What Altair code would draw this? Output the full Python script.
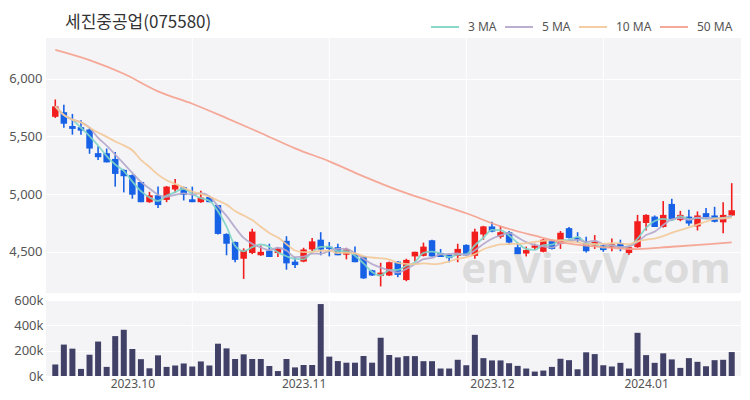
import json
import altair as alt
import pandas as pd
import numpy as np

title_text = "세진중공업(075580)"

opens = [5670, 5710, 5590, 5580, 5560, 5355, 5355, 5305, 5210, 5165,
         5105, 4930, 4990, 4950, 5040, 5060, 4955, 4930, 4975, 4905,
         4655, 4585, 4440, 4490, 4470, 4510, 4490, 4595, 4415, 4415,
         4520, 4605, 4545, 4540, 4475, 4480, 4460, 4340, 4290, 4295,
         4415, 4255, 4460, 4465, 4600, 4490, 4475, 4465, 4560, 4465,
         4650, 4720, 4630, 4670, 4540, 4485, 4535, 4500, 4600, 4570,
         4705, 4625, 4575, 4555, 4555, 4535, 4575, 4490, 4540, 4750,
         4805, 4715, 4915, 4775, 4805, 4720, 4835, 4815, 4755, 4815]
highs = [5820, 5775, 5695, 5640, 5580, 5415, 5395, 5365, 5215, 5170,
         5110, 5020, 5065, 5070, 5130, 5065, 5065, 5030, 4980, 4905,
         4660, 4590, 4530, 4700, 4555, 4570, 4540, 4635, 4455, 4535,
         4620, 4670, 4585, 4570, 4535, 4545, 4465, 4345, 4405, 4415,
         4420, 4440, 4500, 4580, 4605, 4525, 4480, 4570, 4565, 4700,
         4725, 4760, 4725, 4680, 4580, 4545, 4570, 4610, 4605, 4680,
         4715, 4670, 4630, 4645, 4560, 4615, 4605, 4545, 4820, 4825,
         4815, 4940, 4960, 4855, 4865, 4850, 4880, 4890, 4930, 5095]
lows = [5660, 5575, 5515, 5515, 5350, 5295, 5275, 5065, 5015, 4960,
        4930, 4925, 4880, 4930, 5010, 4945, 4930, 4925, 4930, 4650,
        4470, 4410, 4265, 4480, 4465, 4455, 4455, 4345, 4360, 4410,
        4505, 4470, 4460, 4470, 4435, 4410, 4265, 4290, 4200, 4290,
        4280, 4245, 4415, 4460, 4460, 4455, 4410, 4410, 4465, 4440,
        4605, 4670, 4615, 4560, 4480, 4460, 4515, 4495, 4520, 4525,
        4615, 4580, 4495, 4525, 4500, 4505, 4505, 4475, 4535, 4685,
        4715, 4710, 4770, 4765, 4725, 4685, 4795, 4755, 4660, 4810]
closes = [5760, 5610, 5565, 5550, 5395, 5320, 5275, 5175, 5155, 4995,
          4930, 4990, 4905, 5065, 5080, 4995, 4930, 4970, 4930, 4655,
          4570, 4430, 4515, 4675, 4500, 4455, 4530, 4400, 4385, 4520,
          4590, 4520, 4525, 4470, 4520, 4410, 4270, 4295, 4320, 4410,
          4300, 4430, 4500, 4545, 4460, 4455, 4445, 4525, 4470, 4675,
          4720, 4675, 4670, 4580, 4480, 4515, 4555, 4605, 4525, 4665,
          4620, 4605, 4505, 4585, 4515, 4565, 4535, 4540, 4765, 4820,
          4715, 4820, 4785, 4820, 4745, 4815, 4800, 4760, 4820, 4860]
volumes = [91, 248, 216, 56, 168, 272, 72, 315, 365, 213,
           133, 61, 163, 72, 83, 99, 75, 115, 83, 255,
           218, 134, 171, 134, 134, 79, 39, 134, 68, 87,
           87, 568, 153, 118, 105, 105, 158, 105, 302, 166,
           147, 157, 157, 117, 117, 59, 59, 128, 85, 325,
           141, 123, 123, 101, 80, 59, 35, 43, 72, 136,
           125, 53, 187, 173, 85, 75, 104, 59, 341, 165,
           104, 179, 131, 64, 141, 112, 77, 125, 128, 189]

ma50_idx = [0, 4, 8, 12, 16, 20, 24, 28, 32, 36, 40, 44, 48, 52, 56, 60, 64, 68, 72, 76, 79]
ma50_vals = [6251, 6162, 6043, 5891, 5783, 5659, 5530, 5397, 5284, 5154, 5035,
             4934, 4834, 4721, 4640, 4570, 4541, 4524, 4544, 4565, 4582]

month_tick_idx = [9, 29, 51, 69]
month_labels = ["2023.10", "2023.11", "2023.12", "2024.01"]
grid_idx = [16, 32, 48, 64]

ma_names = ["3 MA", "5 MA", "10 MA", "50 MA"]
ma_colors = ["#7fd4c6", "#b4a7cc", "#f3c998", "#f5a08d"]
price_ticks = [4500, 5000, 5500, 6000]
vol_ticks = [0, 200000, 400000, 600000]
watermark = "enVievV.com"

n = len(closes)
df = pd.DataFrame({
    "i": list(range(n)),
    "open": opens, "high": highs, "low": lows, "close": closes,
    "volume": [v * 1000 for v in volumes],
})
df["dir"] = np.where(df["close"] >= df["open"], "up", "down")

close_s = pd.Series(closes)
ma_frames = []
for w, name in zip([3, 5, 10], ma_names[:3]):
    ma_frames.append(pd.DataFrame({"i": list(range(n)),
                                   "value": close_s.rolling(w, min_periods=1).mean(),
                                   "series": name}))
ma_frames.append(pd.DataFrame({"i": ma50_idx, "value": ma50_vals, "series": "50 MA"}))
ma_df = pd.concat(ma_frames, ignore_index=True)

grid_df = pd.DataFrame({"i": grid_idx})
wm_df = pd.DataFrame({"t": [watermark]})

W = 695
x_scale = alt.Scale(domain=[-0.5, n - 0.5], nice=False, zero=False)
price_scale = alt.Scale(domain=[4143, 6353], nice=False, zero=False)
dir_scale = alt.Scale(domain=["up", "down"], range=["#f21d1d", "#1761e6"])

FONT = "Noto Sans"


def price_axis():
    return alt.Axis(values=price_ticks, labelExpr="format(datum.value, ',')", grid=True,
                    gridColor="white", gridWidth=1, domain=False, ticks=False,
                    labelFontSize=13, labelColor="#555", labelPadding=4,
                    minExtent=37, maxExtent=37, title=None, labelFont=FONT)


grid_rules = alt.Chart(grid_df).mark_rule(color="white", strokeWidth=1).encode(
    x=alt.X("i:Q", scale=x_scale, axis=None)
)

wm = alt.Chart(wm_df).mark_text(fontSize=42, font="Open Sans", fontWeight="bold",
                                 color="#d6d6d6", opacity=0.8, align="center",
                                 baseline="alphabetic", clip=True).encode(
    text="t:N", x=alt.value(550), y=alt.value(245)
)

wicks = alt.Chart(df).mark_rule(strokeWidth=1.6).encode(
    x=alt.X("i:Q", scale=x_scale, axis=None),
    y=alt.Y("low:Q", scale=price_scale, axis=price_axis()),
    y2="high:Q",
    color=alt.Color("dir:N", scale=dir_scale, legend=None),
)
bodies = alt.Chart(df).mark_bar(size=6.5).encode(
    x=alt.X("i:Q", scale=x_scale, axis=None),
    y=alt.Y("open:Q", scale=price_scale, axis=price_axis()),
    y2="close:Q",
    color=alt.Color("dir:N", scale=dir_scale, legend=None),
)
ma_lines = alt.Chart(ma_df).mark_line(strokeWidth=1.8, opacity=0.9, interpolate="monotone").encode(
    x=alt.X("i:Q", scale=x_scale, axis=None),
    y=alt.Y("value:Q", scale=price_scale, axis=price_axis()),
    stroke=alt.Stroke("series:N", sort=ma_names,
                      scale=alt.Scale(domain=ma_names, range=ma_colors),
                      legend=alt.Legend(orient="none", legendX=384, legendY=-26,
                                        direction="horizontal", title=None,
                                        symbolType="stroke", symbolSize=784,
                                        symbolStrokeWidth=2, labelFontSize=12,
                                        labelColor="#555", labelFont=FONT,
                                        columnPadding=4, labelOffset=8, padding=0)),
    detail="series:N",
)

price = alt.layer(grid_rules, wm, wicks, bodies, ma_lines).properties(
    width=W, height=255,
    title=alt.TitleParams(title_text, anchor="start", frame="group", fontSize=17,
                          font="Noto Sans CJK KR", fontWeight="normal", color="#333",
                          dx=19, offset=6),
)

label_expr = f"{json.dumps(month_labels)}[indexof({json.dumps(month_tick_idx)}, datum.value)]"

vol_grid = alt.Chart(grid_df).mark_rule(color="white", strokeWidth=1).encode(
    x=alt.X("i:Q", scale=x_scale)
)
vol_bars = alt.Chart(df).mark_bar(size=6, color="#414168").encode(
    x=alt.X("i:Q", scale=x_scale,
            axis=alt.Axis(values=month_tick_idx, labelExpr=label_expr, grid=False,
                          ticks=False, domain=False, labelFontSize=12, labelColor="#555",
                          labelPadding=2, title=None, labelFont=FONT)),
    y=alt.Y("volume:Q", scale=alt.Scale(domain=[0, 600000], nice=False),
            axis=alt.Axis(values=vol_ticks, format="~s", grid=True, gridColor="white",
                          domain=False, ticks=False, labelFontSize=13, labelColor="#555",
                          labelPadding=3, minExtent=37, maxExtent=37, title=None,
                          labelFont=FONT)),
)
volume = alt.layer(vol_grid, vol_bars).properties(width=W, height=76)

chart = alt.vconcat(price, volume, spacing=0).properties(
    padding={"left": 0, "top": 4, "right": 0, "bottom": 6}
).configure_view(fill="#f4f4f6", strokeWidth=0)

chart.save("out.html", embed_options={"renderer": "svg", "actions": False})
